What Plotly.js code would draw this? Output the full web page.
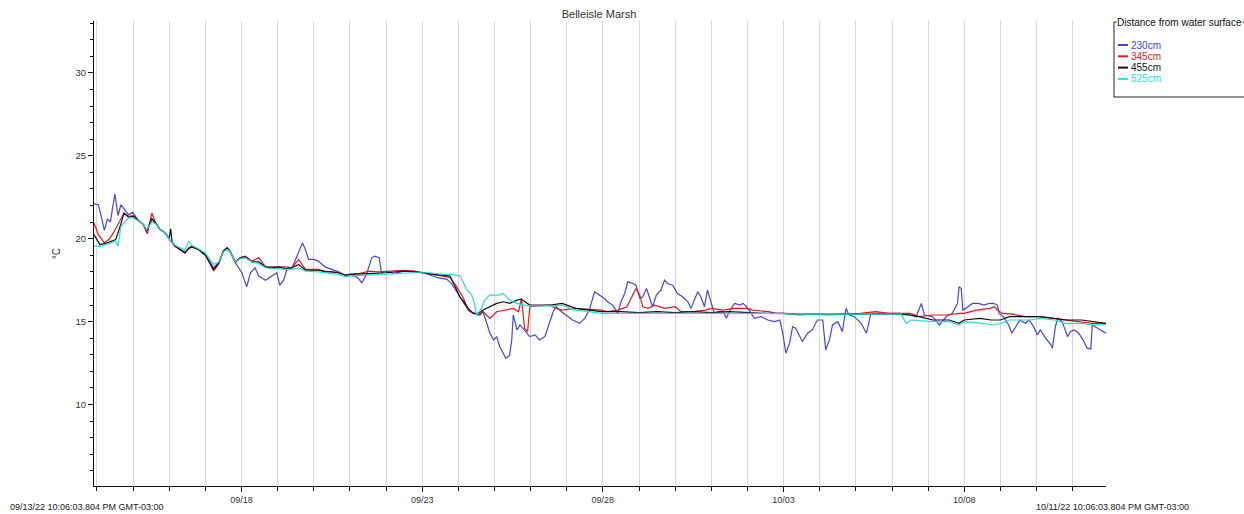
<!DOCTYPE html>
<html>
<head>
<meta charset="utf-8">
<script src="https://cdn.plot.ly/plotly-3.0.1.min.js"></script>
<style>html,body{margin:0;padding:0;background:#fff;}#chart{width:1244px;height:514px;}</style>
</head>
<body>
<div id="chart"></div>
<script>
// ---------------- data ----------------
const chartTitle = "Belleisle Marsh";
const yTitle = "°C";
const legendTitle = "Distance from water surface";
const seriesNames = ["230cm", "345cm", "455cm", "525cm"];
const seriesColors = ["#4646dc", "#e8161c", "#111111", "#1fe0dc"];
const xStart = "2022-09-13 22:06:03.804";
const xEnd = "2022-10-11 22:06:03.804";
const startLabel = "09/13/22 10:06:03.804 PM GMT-03:00";
const endLabel = "10/11/22 10:06:03.804 PM GMT-03:00";
const yRange = [5.09, 33.13];

const t230 = ["2022-09-13 22:06","2022-09-14 01:00","2022-09-14 03:00","2022-09-14 05:00","2022-09-14 07:00","2022-09-14 09:00","2022-09-14 10:30","2022-09-14 12:00","2022-09-14 14:00","2022-09-14 16:00","2022-09-14 18:30","2022-09-14 21:00","2022-09-14 23:45","2022-09-15 02:40",
"2022-09-15 04:00","2022-09-15 07:00","2022-09-15 09:00","2022-09-15 12:30","2022-09-15 15:00","2022-09-15 18:00","2022-09-15 21:30","2022-09-16 01:00","2022-09-16 04:00","2022-09-16 07:30","2022-09-16 10:30","2022-09-16 13:00","2022-09-16 15:00","2022-09-16 19:30","2022-09-17 00:00","2022-09-17 03:30","2022-09-17 05:30","2022-09-17 09:00","2022-09-17 12:00","2022-09-17 14:30","2022-09-17 16:30","2022-09-17 20:00",
"2022-09-17 22:00","2022-09-18 00:20","2022-09-18 03:30","2022-09-18 06:00","2022-09-18 09:00","2022-09-18 11:30","2022-09-18 16:00","2022-09-18 20:00","2022-09-18 23:30","2022-09-19 01:30","2022-09-19 04:00","2022-09-19 06:00","2022-09-19 09:30","2022-09-19 12:00","2022-09-19 15:00","2022-09-19 16:30","2022-09-19 18:30","2022-09-19 20:30","2022-09-20 00:00","2022-09-20 03:00","2022-09-20 07:30","2022-09-20 12:00","2022-09-20 16:30","2022-09-20 21:00",
"2022-09-21 00:00","2022-09-21 04:30","2022-09-21 08:00","2022-09-21 11:00","2022-09-21 14:30","2022-09-21 16:30","2022-09-21 19:30","2022-09-21 21:00","2022-09-22 00:30","2022-09-22 05:00","2022-09-22 12:00","2022-09-22 18:30","2022-09-23 00:30","2022-09-23 10:30","2022-09-23 16:30","2022-09-23 19:30",
"2022-09-24 01:00","2022-09-24 04:30","2022-09-24 08:00","2022-09-24 14:30","2022-09-24 16:30","2022-09-24 19:00","2022-09-24 21:00","2022-09-24 23:30","2022-09-25 01:30","2022-09-25 03:30","2022-09-25 06:00","2022-09-25 07:30","2022-09-25 10:00","2022-09-25 11:30","2022-09-25 12:30","2022-09-25 15:00","2022-09-25 17:00","2022-09-25 21:30","2022-09-25 23:30","2022-09-26 03:00","2022-09-26 06:00","2022-09-26 09:30","2022-09-26 12:30","2022-09-26 15:00","2022-09-26 17:00","2022-09-26 20:30","2022-09-27 04:00","2022-09-27 08:30","2022-09-27 12:00","2022-09-27 15:00","2022-09-27 18:30","2022-09-27 22:00",
"2022-09-28 01:00","2022-09-28 03:00","2022-09-28 06:30","2022-09-28 10:00","2022-09-28 12:00","2022-09-28 14:30","2022-09-28 16:30","2022-09-28 20:00","2022-09-28 22:00","2022-09-29 00:30","2022-09-29 02:30","2022-09-29 05:00","2022-09-29 07:00","2022-09-29 09:00","2022-09-29 11:30","2022-09-29 14:30","2022-09-29 17:00","2022-09-29 19:00","2022-09-29 22:30",
"2022-09-30 01:30","2022-09-30 05:00","2022-09-30 08:30","2022-09-30 10:30","2022-09-30 13:00","2022-09-30 15:00","2022-09-30 17:00","2022-09-30 19:30","2022-09-30 21:30","2022-09-30 23:30",
"2022-10-01 02:00","2022-10-01 04:30","2022-10-01 08:00","2022-10-01 10:00","2022-10-01 12:30","2022-10-01 15:30","2022-10-01 19:00","2022-10-01 21:00","2022-10-01 23:30",
"2022-10-02 02:30","2022-10-02 04:30","2022-10-02 09:00","2022-10-02 13:30","2022-10-02 18:00","2022-10-02 21:30","2022-10-02 23:30",
"2022-10-03 01:30","2022-10-03 04:00","2022-10-03 06:00","2022-10-03 08:00","2022-10-03 10:30","2022-10-03 12:30","2022-10-03 16:00","2022-10-03 19:00","2022-10-03 22:30",
"2022-10-04 02:00","2022-10-04 04:00","2022-10-04 06:30","2022-10-04 08:30","2022-10-04 12:00","2022-10-04 15:00","2022-10-04 17:30","2022-10-04 19:30","2022-10-04 23:00",
"2022-10-05 03:30","2022-10-05 07:00","2022-10-05 10:00","2022-10-05 20:00","2022-10-06 05:00","2022-10-06 12:00","2022-10-06 16:00","2022-10-06 19:30","2022-10-06 21:30",
"2022-10-07 03:00","2022-10-07 07:30","2022-10-07 12:00","2022-10-07 16:00","2022-10-07 19:30","2022-10-07 20:30","2022-10-07 22:00","2022-10-07 23:00",
"2022-10-08 01:00","2022-10-08 05:30","2022-10-08 09:30","2022-10-08 13:00","2022-10-08 16:30","2022-10-08 19:30","2022-10-08 22:00","2022-10-08 23:00",
"2022-10-09 02:00","2022-10-09 05:30","2022-10-09 07:30","2022-10-09 10:00","2022-10-09 13:00","2022-10-09 16:30","2022-10-09 19:00","2022-10-09 22:00",
"2022-10-10 00:30","2022-10-10 02:30","2022-10-10 06:00","2022-10-10 09:30","2022-10-10 10:30","2022-10-10 12:30","2022-10-10 14:00","2022-10-10 17:00","2022-10-10 20:30","2022-10-10 22:30",
"2022-10-11 01:00","2022-10-11 04:00","2022-10-11 07:30","2022-10-11 09:30","2022-10-11 12:00","2022-10-11 13:00","2022-10-11 16:30","2022-10-11 19:00","2022-10-11 22:06"];
const v230 = [22.1,22.05,21.3,20.5,21.2,21.0,21.9,22.7,21.4,22.05,21.75,21.45,21.6,21.2,
21.05,20.85,20.45,21.2,20.95,20.55,20.35,19.85,19.55,19.35,19.15,19.45,19.55,19.35,19.05,18.55,18.25,18.55,19.25,19.45,19.25,18.55,
18.3,17.95,17.1,17.95,18.25,17.75,17.5,17.75,17.95,17.2,17.5,18.1,18.25,18.75,19.35,19.75,19.35,18.75,18.75,18.65,18.3,18.15,18.0,17.8,
17.85,17.7,17.35,17.85,18.85,18.95,18.85,17.95,18.05,17.9,18.05,18.05,17.95,17.65,17.55,17.3,
16.5,16.0,15.6,15.4,15.6,14.9,14.3,13.9,14.1,13.5,13.1,12.8,12.95,13.9,15.4,14.5,14.8,14.3,14.1,14.2,13.9,14.1,14.9,15.6,15.9,15.6,15.1,14.9,15.2,15.7,16.8,16.6,
16.4,16.2,16.0,15.5,16.2,16.7,17.4,17.3,17.2,16.4,16.5,17.0,16.5,15.9,16.6,16.9,17.5,17.3,17.2,
16.7,16.5,16.2,15.8,16.3,16.8,16.5,15.9,16.9,16.3,
15.5,15.6,15.6,15.2,15.7,16.1,16.0,16.1,15.9,
15.5,15.2,15.3,15.1,15.0,15.1,14.3,
13.1,13.7,14.7,14.6,14.1,13.8,14.3,14.5,15.1,
15.1,13.3,13.9,14.8,15.0,14.4,15.8,15.4,15.3,
14.9,14.3,15.5,15.5,15.5,15.4,15.3,16.1,15.4,
15.3,14.8,15.3,15.5,16.1,17.1,17.0,15.7,
15.8,16.1,16.1,16.0,16.1,16.1,16.0,15.5,
15.3,14.8,14.3,14.7,15.1,14.9,15.1,14.7,
14.2,14.5,14.0,13.6,13.4,14.7,15.2,15.0,14.1,14.4,
14.5,14.3,13.8,13.4,13.35,14.8,14.6,14.5,14.3];

const t345 = ["2022-09-13 22:06","2022-09-14 01:00","2022-09-14 05:00","2022-09-14 08:00","2022-09-14 11:00","2022-09-14 14:30","2022-09-14 18:00","2022-09-14 21:00","2022-09-15 00:30","2022-09-15 04:00","2022-09-15 07:00","2022-09-15 09:30","2022-09-15 12:30","2022-09-15 15:00","2022-09-15 18:00","2022-09-15 21:30",
"2022-09-16 01:00","2022-09-16 04:00","2022-09-16 07:30","2022-09-16 10:30","2022-09-16 13:00","2022-09-16 15:00","2022-09-16 19:30","2022-09-17 00:00","2022-09-17 03:30","2022-09-17 05:30","2022-09-17 09:00","2022-09-17 12:00","2022-09-17 14:30","2022-09-17 16:30","2022-09-17 20:00","2022-09-17 23:00",
"2022-09-18 02:30","2022-09-18 07:00","2022-09-18 11:30","2022-09-18 16:00","2022-09-18 20:00","2022-09-19 00:30","2022-09-19 05:00","2022-09-19 09:30","2022-09-19 14:00","2022-09-19 18:30","2022-09-20 03:00","2022-09-20 07:30","2022-09-20 12:00","2022-09-20 16:30","2022-09-20 21:00",
"2022-09-21 00:00","2022-09-21 06:00","2022-09-21 13:00","2022-09-21 19:00","2022-09-22 07:00","2022-09-22 12:00","2022-09-22 18:00","2022-09-23 01:00","2022-09-23 07:00","2022-09-23 14:00","2022-09-23 18:30","2022-09-23 23:00",
"2022-09-24 03:30","2022-09-24 06:30","2022-09-24 10:00","2022-09-24 13:30","2022-09-24 16:30","2022-09-24 21:00","2022-09-25 01:30","2022-09-25 08:00","2022-09-25 12:30","2022-09-25 16:00","2022-09-25 18:00","2022-09-25 20:00","2022-09-25 22:00","2022-09-25 23:30",
"2022-09-26 12:30","2022-09-26 17:00","2022-09-26 21:00","2022-09-27 06:00","2022-09-27 15:00","2022-09-27 23:00","2022-09-28 03:00","2022-09-28 10:00","2022-09-28 16:00","2022-09-28 20:00","2022-09-28 22:00","2022-09-29 00:30","2022-09-29 02:30","2022-09-29 06:00","2022-09-29 10:30","2022-09-29 17:00",
"2022-09-30 00:00","2022-09-30 04:00","2022-09-30 12:00","2022-09-30 20:00","2022-10-01 00:00","2022-10-01 08:00","2022-10-01 15:00","2022-10-02 00:00","2022-10-02 03:00","2022-10-02 14:00","2022-10-02 19:00","2022-10-03 00:00","2022-10-03 10:00","2022-10-03 20:00","2022-10-04 06:00","2022-10-04 16:00",
"2022-10-05 03:00","2022-10-05 13:00","2022-10-05 22:00","2022-10-06 12:00","2022-10-06 18:00","2022-10-07 03:00","2022-10-07 12:00","2022-10-07 20:30","2022-10-08 00:00","2022-10-08 08:00","2022-10-08 17:00","2022-10-08 20:00","2022-10-08 22:00",
"2022-10-09 01:00","2022-10-09 08:00","2022-10-09 16:00","2022-10-10 02:00","2022-10-10 10:00","2022-10-10 19:00","2022-10-11 04:00","2022-10-11 13:00","2022-10-11 22:06"];
const v345 = [20.95,20.25,19.75,19.95,20.35,20.95,21.55,21.35,21.4,21.05,20.85,20.3,21.55,20.95,20.55,20.35,
19.85,19.55,19.35,19.15,19.45,19.55,19.35,19.05,18.45,18.05,18.5,19.25,19.45,19.25,18.55,18.85,
18.95,18.65,18.85,18.3,18.3,18.3,18.3,18.25,18.75,18.15,18.15,18.05,18.0,17.95,17.8,
17.85,17.9,18.05,18.0,18.05,18.1,18.05,17.95,17.85,17.75,17.65,17.1,
16.4,15.7,15.5,15.4,15.6,15.2,15.6,15.7,15.8,15.6,16.4,14.6,14.4,15.9,
16.0,15.8,15.7,15.8,15.75,15.7,15.6,15.7,15.9,16.7,17.0,16.6,15.9,15.8,16.0,15.8,
15.9,15.6,15.6,15.7,15.8,15.7,15.8,15.8,15.7,15.6,15.5,15.5,15.4,15.45,15.4,15.45,
15.5,15.6,15.5,15.5,15.3,15.4,15.4,15.5,15.5,15.7,15.8,15.9,15.7,
15.5,15.45,15.3,15.3,15.2,15.1,15.0,14.9,14.9];

const t455 = ["2022-09-13 22:06","2022-09-14 02:00","2022-09-14 07:00","2022-09-14 12:30","2022-09-14 15:30","2022-09-14 18:00","2022-09-14 21:00","2022-09-15 00:30","2022-09-15 04:00","2022-09-15 07:00","2022-09-15 09:00","2022-09-15 12:30","2022-09-15 15:00","2022-09-15 18:00","2022-09-15 21:30",
"2022-09-16 00:00","2022-09-16 01:00","2022-09-16 02:00","2022-09-16 04:00","2022-09-16 07:30","2022-09-16 10:30","2022-09-16 13:00","2022-09-16 15:00","2022-09-16 19:30",
"2022-09-17 00:00","2022-09-17 03:30","2022-09-17 05:30","2022-09-17 09:00","2022-09-17 12:00","2022-09-17 14:30","2022-09-17 16:30","2022-09-17 20:00","2022-09-17 23:00",
"2022-09-18 02:30","2022-09-18 07:00","2022-09-18 11:30","2022-09-18 16:00","2022-09-18 20:00","2022-09-19 00:30","2022-09-19 05:00","2022-09-19 09:30","2022-09-19 14:00","2022-09-19 18:30","2022-09-20 03:00","2022-09-20 07:30","2022-09-20 12:00","2022-09-20 16:30","2022-09-20 21:00",
"2022-09-21 00:00","2022-09-21 12:00","2022-09-22 00:00","2022-09-22 12:00","2022-09-22 18:00","2022-09-23 01:00","2022-09-23 07:00","2022-09-23 14:00","2022-09-23 18:30","2022-09-23 22:30",
"2022-09-24 01:00","2022-09-24 04:30","2022-09-24 06:30","2022-09-24 10:00","2022-09-24 13:30","2022-09-24 16:30","2022-09-24 21:00","2022-09-25 01:30","2022-09-25 06:00","2022-09-25 10:00","2022-09-25 15:00","2022-09-25 18:00","2022-09-25 23:30",
"2022-09-26 13:00","2022-09-26 21:00","2022-09-27 06:00","2022-09-27 15:00","2022-09-27 23:00","2022-09-28 12:00","2022-09-29 00:00","2022-09-29 12:00","2022-09-30 00:00","2022-09-30 12:00","2022-10-01 00:00","2022-10-01 12:00","2022-10-02 00:00","2022-10-02 12:00","2022-10-03 00:00","2022-10-03 12:00","2022-10-04 00:00","2022-10-04 12:00","2022-10-05 00:00","2022-10-05 12:00","2022-10-06 00:00","2022-10-06 12:00","2022-10-06 18:00",
"2022-10-07 03:00","2022-10-07 14:00","2022-10-07 20:30","2022-10-08 00:00","2022-10-08 10:00","2022-10-08 18:00","2022-10-09 00:00","2022-10-09 06:00","2022-10-09 20:00","2022-10-10 02:00","2022-10-10 12:00","2022-10-10 20:00","2022-10-11 06:00","2022-10-11 13:00","2022-10-11 22:06"];
const v455 = [20.25,19.65,19.75,19.95,20.75,21.55,21.3,21.35,21.05,20.85,20.45,21.2,20.95,20.55,20.35,
20.0,20.6,19.8,19.55,19.35,19.15,19.4,19.5,19.35,
19.0,18.45,18.15,18.55,19.25,19.45,19.2,18.6,18.85,
18.9,18.6,18.6,18.3,18.25,18.3,18.2,18.25,18.45,18.1,18.1,18.0,18.0,17.95,17.8,
17.85,17.9,17.95,18.05,18.0,17.95,17.85,17.8,17.75,17.0,
16.5,16.1,15.8,15.5,15.5,15.7,15.9,16.1,16.2,16.1,16.3,16.35,16.0,
16.0,16.1,15.8,15.7,15.6,15.6,15.55,15.6,15.55,15.6,15.55,15.6,15.55,15.5,15.5,15.45,15.45,15.45,15.45,15.45,15.45,15.4,15.3,
15.1,15.1,14.9,15.1,15.2,15.1,15.1,15.3,15.3,15.3,15.2,15.1,15.1,15.0,14.9];

const t525 = ["2022-09-13 22:06","2022-09-14 03:00","2022-09-14 09:00","2022-09-14 12:30","2022-09-14 14:00","2022-09-14 16:00","2022-09-14 21:00","2022-09-15 00:00","2022-09-15 04:00","2022-09-15 07:00","2022-09-15 09:00","2022-09-15 12:30","2022-09-15 15:00","2022-09-15 18:00","2022-09-15 21:30",
"2022-09-16 01:00","2022-09-16 04:00","2022-09-16 07:30","2022-09-16 10:30","2022-09-16 13:00","2022-09-16 15:00","2022-09-16 19:30",
"2022-09-17 00:00","2022-09-17 03:30","2022-09-17 05:30","2022-09-17 09:00","2022-09-17 12:00","2022-09-17 14:30","2022-09-17 16:30","2022-09-17 20:00","2022-09-17 23:00",
"2022-09-18 02:30","2022-09-18 07:00","2022-09-18 11:30","2022-09-18 16:00","2022-09-18 20:00","2022-09-19 00:30","2022-09-19 05:00","2022-09-19 09:30","2022-09-19 14:00","2022-09-19 18:30","2022-09-20 03:00","2022-09-20 07:30","2022-09-20 12:00","2022-09-20 16:30","2022-09-20 21:00",
"2022-09-21 00:00","2022-09-21 12:00","2022-09-22 00:00","2022-09-22 12:00","2022-09-22 18:00","2022-09-23 05:00","2022-09-23 14:00","2022-09-23 20:00",
"2022-09-24 01:00","2022-09-24 03:30","2022-09-24 05:30","2022-09-24 09:00","2022-09-24 11:00","2022-09-24 12:00","2022-09-24 15:30","2022-09-24 17:30","2022-09-24 21:00",
"2022-09-25 03:00","2022-09-25 06:00","2022-09-25 10:00","2022-09-25 15:00","2022-09-25 22:00","2022-09-26 04:00","2022-09-26 15:00","2022-09-26 21:00","2022-09-27 06:00","2022-09-27 15:00","2022-09-27 23:00",
"2022-09-28 12:00","2022-09-29 12:00","2022-09-30 12:00","2022-10-01 12:00","2022-10-02 12:00","2022-10-03 12:00","2022-10-04 12:00","2022-10-05 12:00","2022-10-06 06:00","2022-10-06 09:30","2022-10-06 13:00",
"2022-10-07 03:00","2022-10-07 14:00","2022-10-07 20:30","2022-10-08 00:00","2022-10-08 12:00","2022-10-08 19:00","2022-10-09 00:00","2022-10-09 06:00","2022-10-09 20:00","2022-10-10 02:00","2022-10-10 12:00","2022-10-10 19:00","2022-10-11 06:00","2022-10-11 13:00","2022-10-11 22:06"];
const v525 = [19.55,19.55,19.75,19.85,19.55,20.75,21.25,21.25,21.05,20.85,20.55,21.0,20.9,20.55,20.35,
19.85,19.6,19.45,19.3,19.85,19.6,19.4,
19.15,18.7,18.45,18.6,19.2,19.35,19.2,18.6,18.8,
18.85,18.6,18.5,18.25,18.2,18.2,18.15,18.15,18.25,18.05,18.0,17.95,17.9,17.85,17.7,
17.75,17.8,17.85,17.9,17.95,17.95,17.85,17.85,
17.75,17.35,16.95,16.6,16.0,15.4,15.8,16.3,16.6,
16.6,16.7,16.3,16.1,15.95,15.95,15.95,16.0,15.7,15.6,15.5,
15.5,15.5,15.5,15.5,15.5,15.45,15.45,15.45,15.45,14.9,15.1,
15.0,15.0,14.8,15.0,14.9,14.8,14.9,15.1,15.1,15.2,15.1,14.9,14.9,14.8,14.8];

const seriesTimes = [t230, t345, t455, t525];
const seriesValues = [v230, v345, v455, v525];

// ---------------- chart ----------------
const FONT = "Liberation Sans, Arial, sans-serif";
const traces = seriesNames.map((n, i) => ({
  type: "scatter", mode: "lines", name: n,
  x: seriesTimes[i], y: seriesValues[i],
  line: {color: seriesColors[i], width: 1.2},
  hoverinfo: "skip", showlegend: false
}));

const W = 1244, H = 514;
const L = 94, R = 138, T = 21, B = 28;
const pw = W - L - R, ph = H - T - B;
const px = x => (x - L) / pw;           // pixel -> paper x
const py = y => (H - B - y) / ph;        // pixel -> paper y

const shapes = [
  {type: "rect", xref: "paper", yref: "paper", x0: px(1114), x1: px(1260), y0: py(97), y1: py(22),
   line: {color: "#222", width: 1}, fillcolor: "rgba(0,0,0,0)"}
];
const annotations = [
  {xref: "paper", yref: "paper", x: px(8), y: py(507), xanchor: "left", yanchor: "middle",
   text: startLabel, showarrow: false, font: {family: FONT, size: 9, color: "#222"}},
  {xref: "paper", yref: "paper", x: px(1191), y: py(507), xanchor: "right", yanchor: "middle",
   text: endLabel, showarrow: false, font: {family: FONT, size: 9, color: "#222"}},
  {xref: "paper", yref: "paper", x: px(1116), y: py(22), xanchor: "left", yanchor: "middle",
   text: legendTitle, showarrow: false, bgcolor: "#ffffff", borderpad: 0,
   font: {family: FONT, size: 10, color: "#111"}}
];
seriesNames.forEach((n, i) => {
  const yy = 45 + i * 11.3;
  shapes.push({type: "line", xref: "paper", yref: "paper", x0: px(1118), x1: px(1128),
    y0: py(yy), y1: py(yy), line: {color: seriesColors[i], width: 2}});
  annotations.push({xref: "paper", yref: "paper", x: px(1128.5), y: py(yy), xanchor: "left", yanchor: "middle",
    text: n, showarrow: false, font: {family: FONT, size: 10, color: seriesColors[i]}});
});

const layout = {
  width: W, height: H,
  margin: {l: L, r: R, t: T, b: B, pad: 0},
  paper_bgcolor: "#ffffff", plot_bgcolor: "#ffffff",
  font: {family: FONT, size: 9, color: "#222"},
  showlegend: false,
  title: {text: chartTitle, xref: "container", yref: "container", x: 599 / W, y: 1 - 14 / H,
          xanchor: "center", yanchor: "middle", font: {family: FONT, size: 11, color: "#333"}},
  xaxis: {
    type: "date", range: [xStart, xEnd], autorange: false,
    showline: true, linecolor: "#111", linewidth: 1, mirror: false, zeroline: false,
    ticks: "outside", ticklen: 5, tickcolor: "#111", tickwidth: 1,
    tick0: "2022-09-18", dtick: 5 * 86400000, tickformat: "%m/%d",
    tickfont: {family: FONT, size: 9, color: "#333"},
    showgrid: true, gridcolor: "#d8d8d8", gridwidth: 1,
    minor: {tick0: "2022-09-14", dtick: 86400000, ticks: "outside", ticklen: 4, tickcolor: "#111",
            showgrid: true, gridcolor: "#d8d8d8", gridwidth: 1},
    automargin: false
  },
  yaxis: {
    range: yRange, autorange: false,
    showline: true, linecolor: "#111", linewidth: 1, zeroline: false, showgrid: false,
    ticks: "outside", ticklen: 5, tickcolor: "#111", tick0: 0, dtick: 5,
    tickfont: {family: FONT, size: 9.5, color: "#333"},
    minor: {dtick: 1, ticks: "outside", ticklen: 3, tickcolor: "#111", showgrid: false},
    title: {text: yTitle, standoff: 13, font: {family: FONT, size: 10, color: "#333"}},
    automargin: false
  },
  shapes: shapes,
  annotations: annotations
};

Plotly.newPlot("chart", traces, layout, {displayModeBar: false, staticPlot: true});
</script>
</body>
</html>
